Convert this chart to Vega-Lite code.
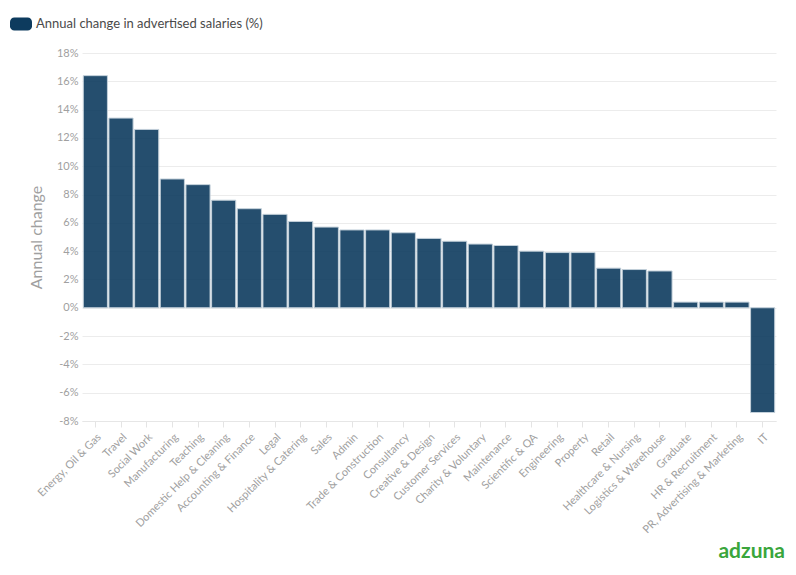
{
  "$schema": "https://vega.github.io/schema/vega-lite/v6.json",
  "width": 694,
  "height": 368,
  "autosize": {"type": "none"},
  "padding": {"left": 82, "top": 53, "right": 20, "bottom": 154},
  "background": "#ffffff",
  "config": {
    "font": "Lato",
    "view": {"stroke": null}
  },
  "title": {
    "text": "adzuna",
    "orient": "bottom",
    "anchor": "end",
    "color": "#3aa63c",
    "fontSize": 21,
    "fontWeight": "bold",
    "font": "Lato",
    "offset": 6,
    "dx": 9
  },
  "data": {
    "values": [
      {"category": "Energy, Oil & Gas", "change": 16.4, "series": "Annual change in advertised salaries (%)"},
      {"category": "Travel", "change": 13.4, "series": "Annual change in advertised salaries (%)"},
      {"category": "Social Work", "change": 12.6, "series": "Annual change in advertised salaries (%)"},
      {"category": "Manufacturing", "change": 9.1, "series": "Annual change in advertised salaries (%)"},
      {"category": "Teaching", "change": 8.7, "series": "Annual change in advertised salaries (%)"},
      {"category": "Domestic Help & Cleaning", "change": 7.6, "series": "Annual change in advertised salaries (%)"},
      {"category": "Accounting & Finance", "change": 7.0, "series": "Annual change in advertised salaries (%)"},
      {"category": "Legal", "change": 6.6, "series": "Annual change in advertised salaries (%)"},
      {"category": "Hospitality & Catering", "change": 6.1, "series": "Annual change in advertised salaries (%)"},
      {"category": "Sales", "change": 5.7, "series": "Annual change in advertised salaries (%)"},
      {"category": "Admin", "change": 5.5, "series": "Annual change in advertised salaries (%)"},
      {"category": "Trade & Construction", "change": 5.5, "series": "Annual change in advertised salaries (%)"},
      {"category": "Consultancy", "change": 5.3, "series": "Annual change in advertised salaries (%)"},
      {"category": "Creative & Design", "change": 4.9, "series": "Annual change in advertised salaries (%)"},
      {"category": "Customer Services", "change": 4.7, "series": "Annual change in advertised salaries (%)"},
      {"category": "Charity & Voluntary", "change": 4.5, "series": "Annual change in advertised salaries (%)"},
      {"category": "Maintenance", "change": 4.4, "series": "Annual change in advertised salaries (%)"},
      {"category": "Scientific & QA", "change": 4.0, "series": "Annual change in advertised salaries (%)"},
      {"category": "Engineering", "change": 3.9, "series": "Annual change in advertised salaries (%)"},
      {"category": "Property", "change": 3.9, "series": "Annual change in advertised salaries (%)"},
      {"category": "Retail", "change": 2.8, "series": "Annual change in advertised salaries (%)"},
      {"category": "Healthcare & Nursing", "change": 2.7, "series": "Annual change in advertised salaries (%)"},
      {"category": "Logistics & Warehouse", "change": 2.6, "series": "Annual change in advertised salaries (%)"},
      {"category": "Graduate", "change": 0.4, "series": "Annual change in advertised salaries (%)"},
      {"category": "HR & Recruitment", "change": 0.4, "series": "Annual change in advertised salaries (%)"},
      {"category": "PR, Advertising & Marketing", "change": 0.4, "series": "Annual change in advertised salaries (%)"},
      {"category": "IT", "change": -7.4, "series": "Annual change in advertised salaries (%)"}
    ]
  },
  "mark": {
    "type": "bar",
    "fillOpacity": 0.9,
    "stroke": "#c3d0da",
    "strokeWidth": 1
  },
  "encoding": {
    "x": {
      "field": "category",
      "type": "nominal",
      "sort": null,
      "scale": {"paddingInner": 0.06, "paddingOuter": 0.05},
      "axis": {
        "title": null,
        "labelAngle": -45,
        "labelFontSize": 11,
        "labelColor": "#a0a0a0",
        "labelPadding": 4,
        "tickColor": "#e4e4e4",
        "tickSize": 6,
        "domainColor": "#e6e6e6"
      }
    },
    "y": {
      "field": "change",
      "type": "quantitative",
      "scale": {"domain": [-8, 18], "nice": false, "zero": false},
      "axis": {
        "title": "Annual change",
        "titleFontSize": 16,
        "titleFontWeight": "normal",
        "titleColor": "#a0a0a0",
        "titlePadding": 12,
        "values": [-8, -6, -4, -2, 0, 2, 4, 6, 8, 10, 12, 14, 16, 18],
        "labelExpr": "datum.value + '%'",
        "labelFontSize": 11,
        "labelColor": "#a0a0a0",
        "labelPadding": 4,
        "domain": false,
        "ticks": false,
        "gridColor": "#ececec"
      }
    },
    "color": {
      "field": "series",
      "type": "nominal",
      "scale": {"range": ["#0d3b5e"]},
      "legend": {
        "title": null,
        "orient": "none",
        "legendX": -72,
        "legendY": -40,
        "symbolType": "M-0.6,-0.6 H0.6 A0.4,0.4 0 0 1 1,-0.2 V0.2 A0.4,0.4 0 0 1 0.6,0.6 H-0.6 A0.4,0.4 0 0 1 -1,0.2 V-0.2 A0.4,0.4 0 0 1 -0.6,-0.6 Z",
        "symbolSize": 484,
        "symbolOpacity": 1,
        "symbolStrokeWidth": 0,
        "labelFontSize": 13,
        "labelColor": "#4a4a4a",
        "labelLimit": 400
      }
    }
  }
}
